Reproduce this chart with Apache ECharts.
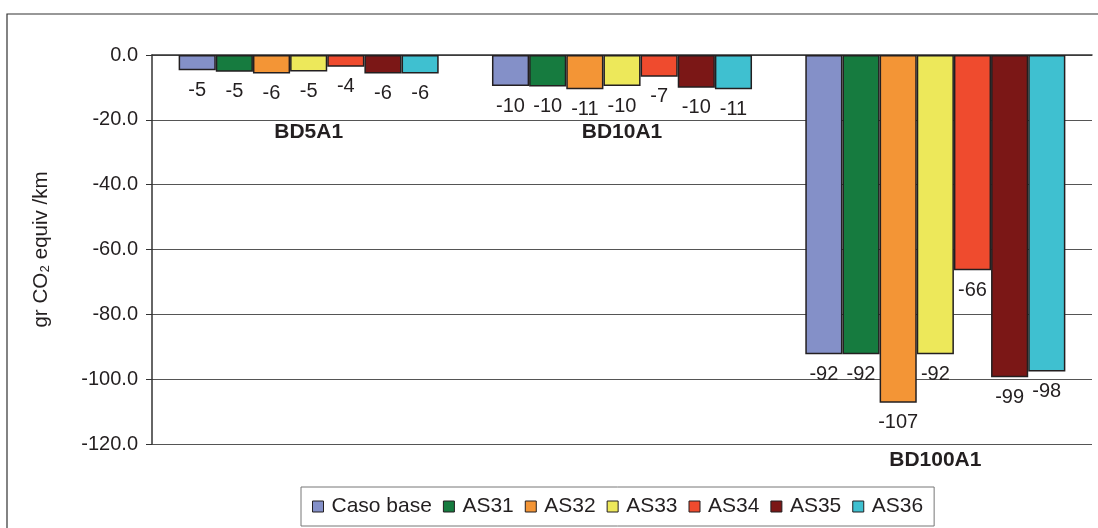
<!DOCTYPE html>
<html><head><meta charset="utf-8">
<script src="https://cdn.jsdelivr.net/npm/echarts@6/dist/echarts.min.js"></script>
<style>html,body{margin:0;padding:0;background:#fff}#c{width:1098px;height:528px}</style>
</head><body><div id="c"></div>
<script>
const categories = ['BD5A1', 'BD10A1', 'BD100A1'];
const seriesNames = ['Caso base', 'AS31', 'AS32', 'AS33', 'AS34', 'AS35', 'AS36'];
const casoBase = [-4.7, -9.6, -92.3];
const as31 = [-5.2, -9.7, -92.3];
const as32 = [-5.7, -10.6, -107.3];
const as33 = [-5.1, -9.6, -92.3];
const as34 = [-3.6, -6.7, -66.4];
const as35 = [-5.7, -10.1, -99.4];
const as36 = [-5.7, -10.6, -97.6];
const seriesValues = [casoBase, as31, as32, as33, as34, as35, as36];
const yTicks = [0, -20, -40, -60, -80, -100, -120];
const categoryLabelValues = [-23.8, -23.8, -125];

const colors = ['#8490c8', '#167b3f', '#f39536', '#ede85a', '#ef4b2e', '#7b1716', '#3fc0d0'];
const font = 'Liberation Sans, Arial, sans-serif';

const chart = echarts.init(document.getElementById('c'), null, {renderer: 'canvas'});
const option = {
  animation: false,
  backgroundColor: '#fff',
  color: colors,
  grid: {left: 152, top: 55, right: 6, bottom: 84, containLabel: false},
  xAxis: {
    type: 'category', data: categories, position: 'top',
    axisLine: {onZero: true, lineStyle: {color: '#333', width: 1.5}},
    axisTick: {show: false}, axisLabel: {show: false}
  },
  yAxis: {
    type: 'value', min: -120, max: 0, interval: 20,
    name: 'gr CO₂ equiv /km', nameLocation: 'middle', nameGap: 100,
    nameTextStyle: {fontFamily: font, fontSize: 20.5, color: '#231f20'},
    axisLine: {show: true, lineStyle: {color: '#333', width: 1.5}},
    axisTick: {show: true, length: 6, lineStyle: {color: '#333'}},
    axisLabel: {fontFamily: font, fontSize: 20, color: '#231f20', margin: 14,
      formatter: v => yTicks.includes(v) ? v.toFixed(1) : ''},
    splitLine: {show: true, lineStyle: {color: '#555', width: 1}}
  },
  legend: {
    data: seriesNames, top: 487, left: 301,
    orient: 'horizontal', itemWidth: 11, itemHeight: 11, itemGap: 11,
    icon: 'rect',
    borderColor: '#777', borderWidth: 1, padding: [9, 11, 9, 11],
    textStyle: {fontFamily: font, fontSize: 21, color: '#231f20', padding: [0, 0, 0, 3]},
    itemStyle: {borderColor: '#231f20', borderWidth: 1}
  },
  series: seriesNames.map((name, i) => ({
    name, type: 'bar', data: seriesValues[i],
    barGap: '0%', barCategoryGap: '17%',
    itemStyle: {color: colors[i], borderColor: '#231f20', borderWidth: 1.5},
    label: {show: true, position: 'bottom', distance: 10,
      fontFamily: font, fontSize: 20, color: '#231f20',
      formatter: p => String(Math.round(p.value))}
  }))
};
chart.setOption(option);

const gfx = [{
  type: 'rect', silent: true,
  shape: {x: 7, y: 14, width: 1100, height: 530},
  style: {fill: null, stroke: '#333', lineWidth: 1.2}
}];
categories.forEach((c, i) => {
  const p = chart.convertToPixel({xAxisIndex: 0, yAxisIndex: 0}, [c, categoryLabelValues[i]]);
  gfx.push({type: 'text', x: p[0], y: p[1], silent: true,
    style: {text: c, fontFamily: font, fontSize: 21, fontWeight: 'bold', fill: '#231f20',
      align: 'center', verticalAlign: 'middle'}});
});
chart.setOption({graphic: gfx});
</script></body></html>
